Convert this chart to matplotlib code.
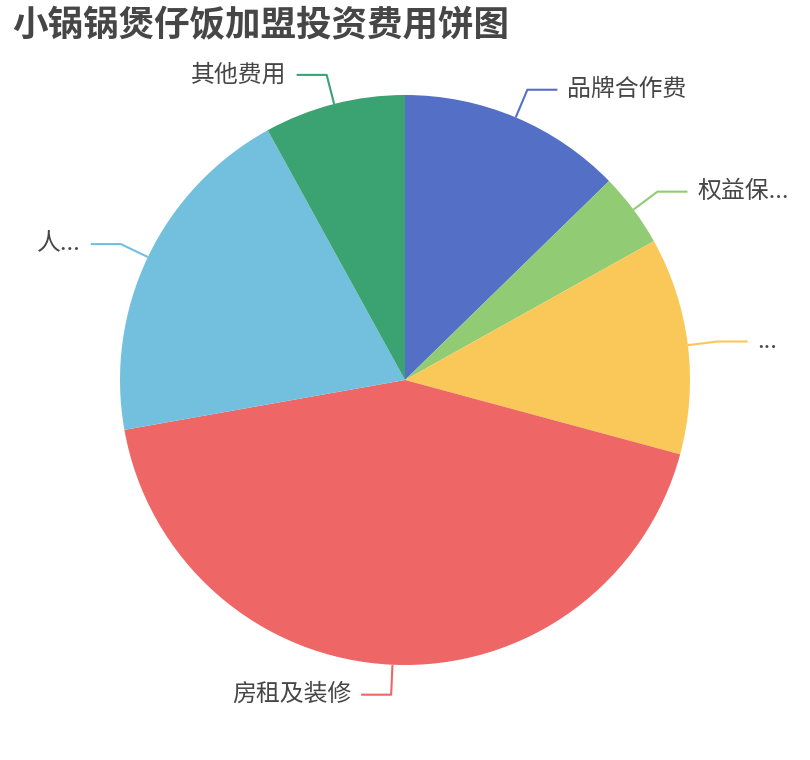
import numpy as np
import matplotlib
matplotlib.use("Agg")
import matplotlib.pyplot as plt

plt.rcParams['font.family'] = ['Noto Sans CJK SC', 'DejaVu Sans']

TITLE = "小锅锅煲仔饭加盟投资费用饼图"
labels = ["品牌合作费", "权益保...", "...", "房租及装修", "人...", "其他费用"]
values = [12.7, 4.2, 12.3, 43.0, 19.8, 8.0]
colors = ["#5470c6", "#91cc75", "#fac858", "#ee6666", "#73c0de", "#3ba272"]

W, H = 810, 760
CX, CY = 405, 380   # pie centre in pixels (y up)
R = 285
LEN1, LEN2 = 30, 30  # leader line segments

fig = plt.figure(figsize=(W / 100, H / 100), dpi=100)
ax = fig.add_axes([0, 0, 1, 1])

wedges, _ = ax.pie(values, colors=colors, startangle=90, counterclock=False,
                   radius=R, center=(CX, CY), wedgeprops=dict(linewidth=0))

# pie() resets the limits, so set them afterwards
ax.set_xlim(0, W)
ax.set_ylim(0, H)
ax.set_aspect('equal')
ax.axis('off')

for w, lab, col in zip(wedges, labels, colors):
    mid = np.deg2rad((w.theta1 + w.theta2) / 2)
    dx, dy = np.cos(mid), np.sin(mid)
    x0, y0 = CX + R * dx, CY + R * dy
    x1, y1 = CX + (R + LEN1) * dx, CY + (R + LEN1) * dy
    side = 1 if dx >= 0 else -1
    x2 = x1 + side * LEN2
    ax.plot([x0, x1, x2], [y0, y1, y1], color=col, lw=1.5, solid_capstyle='butt')
    ax.text(x2 + side * 10, y1, lab, fontsize=17.2, color="#464646",
            ha='left' if side > 0 else 'right', va='center')

fig.text(12 / W, 1 - 26 / H, TITLE, fontsize=25.6, fontweight='bold',
         color="#464646", ha='left', va='center')

fig.savefig("out.png", dpi=100)
